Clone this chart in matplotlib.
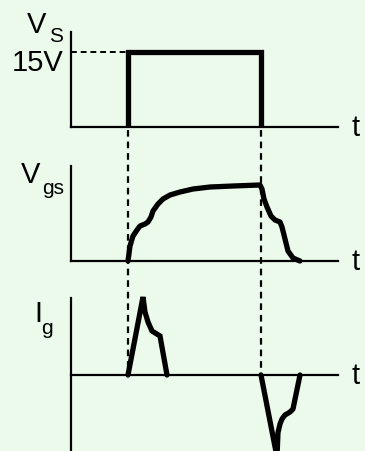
import matplotlib
matplotlib.use("Agg")
import matplotlib.pyplot as plt
from matplotlib.transforms import blended_transform_factory

plt.rcParams['font.family'] = ['Liberation Sans', 'DejaVu Sans']

BG = '#ECFAEC'
W, H = 365, 452

# ---- data (time in arbitrary units, voltage in V, current in arb. units) ----
t_on, t_off = 57, 190
vs_level = 15
vs_t = [t_on, t_on, t_off, t_off]
vs_v = [0, vs_level, vs_level, 0]

vgs_t = [57, 59, 62, 66, 69, 74, 77, 80, 82, 87, 92, 99, 109, 122, 139, 162, 189,
         191, 193, 196, 200, 204, 209, 211, 214, 217, 222, 229]
vgs_v = [0, 3.0, 5.0, 6.2, 7.0, 7.4, 7.8, 8.8, 10.0, 11.4, 12.4, 13.2, 13.8, 14.4, 14.8, 15.0, 15.2,
         14.4, 12.4, 10.8, 9.0, 8.2, 7.8, 6.8, 4.4, 2.0, 0.6, 0]

ig_on_t = [57, 72, 74, 77, 81, 89, 96]
ig_on_v = [0, 15.6, 12.6, 10.6, 8.8, 7.8, 0]
ig_off_t = [190, 206, 207, 209, 211, 214, 219, 222, 229]
ig_off_v = [0, -16.4, -11.5, -9.8, -8.8, -8.0, -7.4, -6.8, 0]

T_END = 267

fig = plt.figure(figsize=(W / 100, H / 100), dpi=100, facecolor=BG)


def fx(px):
    return px / W


def fy(py):
    return 1 - py / H


def make_ax(top_px, bot_px, ylim):
    ax = fig.add_axes([fx(71), fy(bot_px), fx(338) - fx(71), (bot_px - top_px) / H])
    ax.set_facecolor('none')
    ax.set_xlim(0, T_END)
    ax.set_ylim(*ylim)
    for s in ['top', 'right', 'bottom']:
        ax.spines[s].set_visible(False)
    ax.spines['left'].set_linewidth(1.6)
    ax.axhline(0, color='black', lw=1.6, clip_on=False)
    ax.set_xticks([])
    ax.set_yticks([])
    return ax


ax1 = make_ax(33, 128, (0, 19))
ax2 = make_ax(167, 262, (0, 19))
ax3 = make_ax(299, 452, (-15.2, 15.4))

LW = 3.8
ax1.plot(vs_t, vs_v, color='black', lw=LW, solid_joinstyle='miter', solid_capstyle='butt', clip_on=False)
ax1.plot([0, t_on], [vs_level, vs_level], color='black', lw=1.4, ls=(0, (3, 2)), clip_on=False)

ax2.plot(vgs_t, vgs_v, color='black', lw=LW, solid_joinstyle='round', solid_capstyle='round', clip_on=False)

ax3.plot(ig_on_t, ig_on_v, color='black', lw=LW, solid_joinstyle='miter', solid_capstyle='round', clip_on=False)
ax3.plot(ig_off_t, ig_off_v, color='black', lw=LW, solid_joinstyle='round', solid_capstyle='round')

# vertical dashed lines through the panels
tr = blended_transform_factory(ax1.transData, fig.transFigure)
for tv in (t_on, t_off):
    fig.add_artist(plt.Line2D([tv, tv], [fy(131), fy(376)], transform=tr, color='black',
                              lw=1.6, ls=(0, (3, 2.2))))

# labels
FS, SFS = 21, 15
fig.text(fx(27), fy(33), 'V', fontsize=FS, ha='left', va='baseline')
fig.text(fx(49), fy(42), 'S', fontsize=SFS, ha='left', va='baseline')
fig.text(fx(64), fy(63), '15V', fontsize=FS, ha='right', va='center')

fig.text(fx(21), fy(183), 'V', fontsize=FS, ha='left', va='baseline')
fig.text(fx(42), fy(194), 'gs', fontsize=SFS, ha='left', va='baseline')

fig.text(fx(34), fy(322), 'I', fontsize=FS, ha='left', va='baseline')
fig.text(fx(41), fy(334), 'g', fontsize=SFS, ha='left', va='baseline')

for yp in (128, 262, 376):
    fig.text(fx(351), fy(yp), 't', fontsize=FS, ha='left', va='center')

fig.savefig('out.png', dpi=100, facecolor=BG)
